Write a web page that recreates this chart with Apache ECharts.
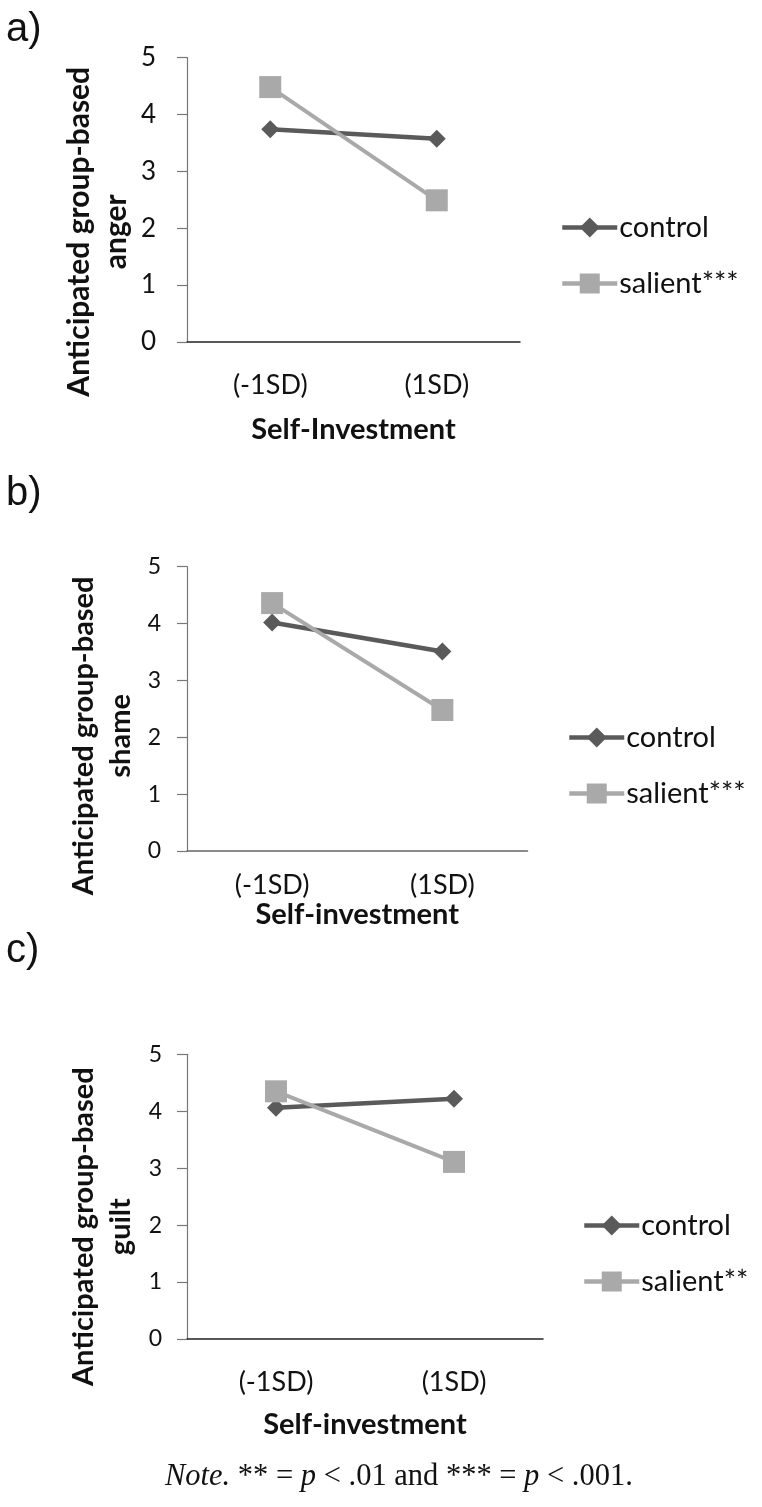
<!DOCTYPE html>
<html>
<head>
<meta charset="utf-8">
<script src="https://cdn.jsdelivr.net/npm/echarts@6/dist/echarts.min.js"></script>
<style>
html,body{margin:0;padding:0;background:#fff;}
#chart{width:762px;height:1507px;}
</style>
</head>
<body>
<div id="chart"></div>
<script>
// ---- data ----
var categories = ['(-1SD)', '(1SD)'];
var yTicks = [0, 1, 2, 3, 4, 5];
var angerControl = [3.74, 3.57];
var angerSalient = [4.48, 2.49];
var shameControl = [4.02, 3.51];
var shameSalient = [4.36, 2.48];
var guiltControl = [4.06, 4.22];
var guiltSalient = [4.35, 3.11];
var panelLabels = ['a)', 'b)', 'c)'];
var yTitles = ['Anticipated group-based\nanger', 'Anticipated group-based\nshame', 'Anticipated group-based\nguilt'];
var xTitles = ['Self-Investment', 'Self-investment', 'Self-investment'];
var seriesNames = [['control', 'salient***'], ['control', 'salient***'], ['control', 'salient**']];

var FONT = 'Lato';
var DARK = '#5a5a5a';
var LIGHT = '#a9a9a9';

var grids = [
  {left: 187, top: 57.5, width: 333, height: 284.5},
  {left: 187, top: 566.7, width: 340.5, height: 284.3},
  {left: 187, top: 1054.3, width: 356, height: 284.7}
];
var axisColors = ['#222', '#666', '#222'];
var yLabelSize = [26, 23, 23];
var yLabelMargin = [31, 26, 25];
var yTitleSize = [30, 29, 29];
var xLabelMargin = [30, 21, 30];
var xNameGap = [73, 45, 71];
var yNameGap = [52, 48, 48];
var yNameShift = [64, 54, 60];
var legendTops = [213, 723, 1211];
var legendLefts = [560, 567, 582];

var xAxes = [], yAxes = [], series = [], legends = [];
var dataSets = [[angerControl, angerSalient], [shameControl, shameSalient], [guiltControl, guiltSalient]];

for (var i = 0; i < 3; i++) {
  xAxes.push({
    type: 'category', gridIndex: i, data: categories, boundaryGap: true,
    axisLine: {lineStyle: {color: axisColors[i], width: 1.5}},
    axisTick: {show: false},
    axisLabel: {fontFamily: FONT, fontSize: 27, color: '#111', margin: xLabelMargin[i]},
    name: xTitles[i], nameLocation: 'middle', nameGap: xNameGap[i],
    nameTextStyle: {fontFamily: FONT, fontWeight: 'bold', fontSize: 29, color: '#111'}
  });
  yAxes.push({
    type: 'value', gridIndex: i, min: 0, max: 5, interval: 1,
    splitLine: {show: false},
    axisLine: {show: true, lineStyle: {color: '#777', width: 1.2}},
    axisTick: {show: true, length: 10, lineStyle: {color: '#777', width: 1.2}},
    axisLabel: {fontFamily: FONT, fontSize: yLabelSize[i], color: '#111', margin: yLabelMargin[i],
      formatter: function (v) { return yTicks.indexOf(v) >= 0 ? String(v) : ''; }},
    name: yTitles[i], nameLocation: 'middle', nameGap: yNameGap[i], nameRotate: 90,
    nameTextStyle: {fontFamily: FONT, fontWeight: 'bold', fontSize: yTitleSize[i], color: '#111', lineHeight: 37,
      padding: [0, yNameShift[i], 0, 0], align: 'center'}
  });
  series.push({
    name: seriesNames[i][0], type: 'line', xAxisIndex: i, yAxisIndex: i,
    data: dataSets[i][0], symbol: 'diamond', symbolSize: [18, 18],
    lineStyle: {color: DARK, width: 4.5}, itemStyle: {color: DARK}, animation: false
  });
  series.push({
    name: seriesNames[i][1], type: 'line', xAxisIndex: i, yAxisIndex: i,
    data: dataSets[i][1], symbol: 'rect', symbolSize: 22,
    lineStyle: {color: LIGHT, width: 4}, itemStyle: {color: LIGHT}, animation: false
  });
  legends.push({
    data: seriesNames[i], orient: 'vertical', left: legendLefts[i], top: legendTops[i],
    itemWidth: 55, itemHeight: 25, itemGap: 27, padding: 0,
    lineStyle: {width: 4.5},
    textStyle: {fontFamily: FONT, fontSize: 29, color: '#111', padding: [0, 0, 0, -3]},
    selectedMode: false
  });
}

var graphics = [];
var labelY = [32, 496, 953];
for (var j = 0; j < 3; j++) {
  graphics.push({
    type: 'text', left: 6, top: labelY[j] - 22,
    style: {text: panelLabels[j], font: '40px "Liberation Sans", Arial, sans-serif', fill: '#111'}
  });
}
graphics.push({
  type: 'text', left: 165, top: 1461,
  style: {
    text: '{i|Note.} ** = {i|p} < .01 and *** = {i|p} < .001.',
    font: '30.5px "Liberation Serif", "Times New Roman", serif', fill: '#111',
    rich: {i: {fontStyle: 'italic', font: 'italic 30.5px "Liberation Serif", "Times New Roman", serif'}}
  }
});

var chart = echarts.init(document.getElementById('chart'), null, {renderer: 'canvas'});
chart.setOption({
  backgroundColor: '#fff',
  animation: false,
  grid: grids,
  xAxis: xAxes,
  yAxis: yAxes,
  series: series,
  legend: legends,
  graphic: graphics
});
</script>
</body>
</html>
